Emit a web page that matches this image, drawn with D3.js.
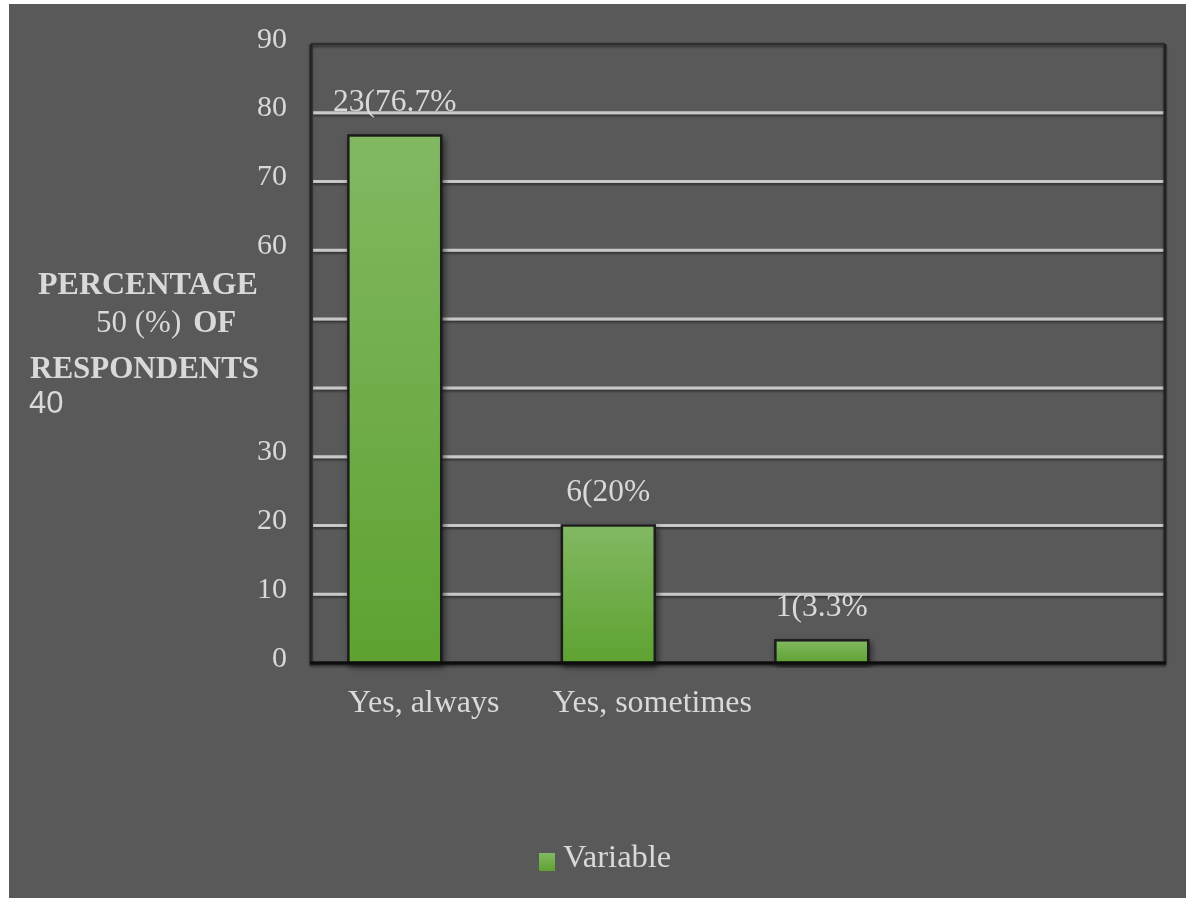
<!DOCTYPE html>
<html>
<head>
<meta charset="utf-8">
<script src="https://cdn.jsdelivr.net/npm/d3@7/dist/d3.min.js"></script>
<style>
  html, body { margin: 0; padding: 0; background: #ffffff; }
  svg { display: block; }
</style>
</head>
<body>
<div id="chart"></div>
<script>
// ---- data ----
const categories = ["Yes, always", "Yes, sometimes", "", ""];
const counts = [23, 6, 1];
const percents = [76.7, 20, 3.3];
const tickValues = [0, 10, 20, 30, 40, 50, 60, 70, 80, 90];
const legendLabel = "Variable";

// ---- layout ----
const W = 1186, H = 903;
const plot = { left: 311, right: 1165, top: 44, bottom: 663 };
const serif = "'Liberation Serif', 'Times New Roman', serif";
const textColor = "#d9d9d9";

const svg = d3.select("#chart").append("svg")
  .attr("width", W).attr("height", H);

const defs = svg.append("defs");
const grad = defs.append("linearGradient")
  .attr("id", "barFill").attr("x1", 0).attr("y1", 0).attr("x2", 0).attr("y2", 1);
grad.append("stop").attr("offset", "0%").attr("stop-color", "#82b862");
grad.append("stop").attr("offset", "100%").attr("stop-color", "#5ea231");

const shadow = defs.append("filter").attr("id", "shadow")
  .attr("x", "-20%").attr("y", "-20%").attr("width", "140%").attr("height", "140%");
shadow.append("feDropShadow").attr("dx", 2).attr("dy", 3)
  .attr("stdDeviation", 3).attr("flood-color", "#000").attr("flood-opacity", 0.55);

// shadow for thin lines: region in user space so zero-height lines still render
const lineShadow = defs.append("filter").attr("id", "lineShadow")
  .attr("filterUnits", "userSpaceOnUse")
  .attr("x", 0).attr("y", 0).attr("width", W).attr("height", H);
lineShadow.append("feDropShadow").attr("dx", 0).attr("dy", 2)
  .attr("stdDeviation", 1.2).attr("flood-color", "#000").attr("flood-opacity", 0.45);

const soft = defs.append("filter").attr("id", "soft");
soft.append("feGaussianBlur").attr("stdDeviation", 0.35);

// dark panel
svg.append("rect").attr("x", 9).attr("y", 4)
  .attr("width", W - 9).attr("height", 898 - 4).attr("fill", "#595959");

// ---- scales ----
const y = d3.scaleLinear().domain([0, 90]).range([plot.bottom, plot.top]);
const x = d3.scaleBand().domain(d3.range(categories.length))
  .range([plot.left, plot.right]).paddingInner(0).paddingOuter(0);
const step = x.bandwidth();
const barW = step * 0.435;
const barOff = step * 0.175;

// gridlines (10..80); 90 coincides with the top border
svg.append("g").attr("filter", "url(#lineShadow)").selectAll("line")
  .data(tickValues.filter(v => v > 0 && v < 90))
  .join("line")
  .attr("x1", plot.left + 2).attr("x2", plot.right)
  .attr("y1", d => y(d)).attr("y2", d => y(d))
  .attr("stroke", "#c8c8c8").attr("stroke-width", 3);

// plot frame
const frame = svg.append("g").attr("filter", "url(#lineShadow)");
frame.append("line").attr("x1", plot.left).attr("x2", plot.right)
  .attr("y1", y(90)).attr("y2", y(90))
  .attr("stroke", "#2e2e2e").attr("stroke-width", 2.5);
frame.append("line").attr("x1", plot.right).attr("x2", plot.right)
  .attr("y1", y(90)).attr("y2", y(0))
  .attr("stroke", "#242424").attr("stroke-width", 3);
frame.append("line").attr("x1", plot.left).attr("x2", plot.left)
  .attr("y1", y(90)).attr("y2", y(0))
  .attr("stroke", "#262626").attr("stroke-width", 3);

// bars
svg.append("g").selectAll("rect")
  .data(percents)
  .join("rect")
  .attr("x", (d, i) => x(i) + barOff)
  .attr("y", d => y(d))
  .attr("width", barW)
  .attr("height", d => y(0) - y(d))
  .attr("fill", "url(#barFill)")
  .attr("stroke", "#1c1c1c").attr("stroke-width", 2.5)
  .attr("filter", "url(#shadow)");

// baseline
svg.append("g").attr("filter", "url(#lineShadow)")
  .append("line").attr("x1", plot.left - 1).attr("x2", plot.right + 1)
  .attr("y1", y(0)).attr("y2", y(0))
  .attr("stroke", "#111").attr("stroke-width", 3.5);

// value labels
svg.append("g").attr("filter", "url(#soft)").selectAll("text")
  .data(percents)
  .join("text")
  .attr("x", (d, i) => x(i) + barOff + barW / 2)
  .attr("y", d => y(d) - 24)
  .attr("text-anchor", "middle")
  .attr("font-family", serif).attr("font-size", 31.5)
  .attr("fill", textColor)
  .text((d, i) => `${counts[i]}(${d}%`);

// y axis tick labels (40 and 50 sit inside the axis title block)
const yAxis = d3.axisLeft(y)
  .tickValues(tickValues.filter(v => v !== 40 && v !== 50))
  .tickSize(0).tickPadding(0)
  .tickFormat(d3.format("d"));
const gy = svg.append("g")
  .attr("transform", `translate(${plot.left - 24},0)`)
  .attr("filter", "url(#soft)")
  .call(yAxis);
gy.select(".domain").remove();
gy.selectAll("text")
  .attr("font-family", serif).attr("font-size", 30)
  .attr("fill", textColor)
  .attr("dy", "0.1em");

// category labels
svg.append("g").attr("filter", "url(#soft)").selectAll("text")
  .data(categories.filter(c => c !== ""))
  .join("text")
  .attr("x", (d, i) => x(i) + barOff + barW / 2 + (i === 0 ? 29 : 44))
  .attr("y", 712)
  .attr("text-anchor", "middle")
  .attr("font-family", serif).attr("font-size", 32)
  .attr("fill", textColor)
  .text(d => d);

// axis title, interleaved with the 50 and 40 tick labels
const title = svg.append("g").attr("filter", "url(#soft)")
  .attr("fill", textColor).attr("font-family", serif);
title.append("text").attr("x", 38).attr("y", 294)
  .attr("font-size", 32).attr("font-weight", "bold")
  .text("PERCENTAGE");
const line2 = title.append("text").attr("x", 96).attr("y", 332).attr("font-size", 31);
line2.append("tspan").text(`${tickValues[5]} (%)`);
line2.append("tspan").attr("dx", 12).attr("font-weight", "bold").text("OF");
title.append("text").attr("x", 30).attr("y", 378)
  .attr("font-size", 31).attr("font-weight", "bold")
  .text("RESPONDENTS");
title.append("text").attr("x", 29).attr("y", 413)
  .attr("font-family", "'Liberation Sans', Arial, sans-serif")
  .attr("font-size", 31)
  .text(tickValues[4]);

// legend
const legend = svg.append("g").attr("filter", "url(#soft)");
legend.append("rect").attr("x", 539).attr("y", 853)
  .attr("width", 16).attr("height", 18).attr("fill", "url(#barFill)");
legend.append("text").attr("x", 563).attr("y", 867)
  .attr("font-family", serif).attr("font-size", 32.5)
  .attr("fill", textColor).text(legendLabel);
</script>
</body>
</html>
